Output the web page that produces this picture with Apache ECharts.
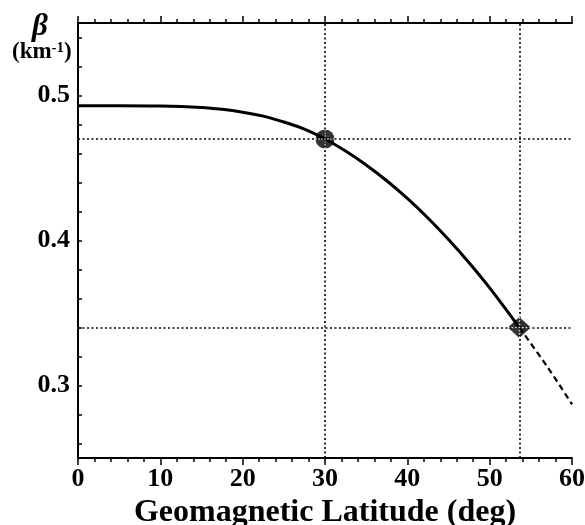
<!DOCTYPE html>
<html>
<head>
<meta charset="utf-8">
<script src="https://cdn.jsdelivr.net/npm/echarts@6/dist/echarts.min.js"></script>
<style>
  html, body { margin: 0; padding: 0; background: #fff; }
  #chart { width: 585px; height: 525px; }
</style>
</head>
<body>
<div id="chart"></div>
<script>
// beta vs geomagnetic latitude
const latSolid = [0, 5, 10, 15, 17.5, 20, 22.5, 25, 27.5, 30, 32.5, 35, 37.5, 40, 42.5, 45, 47.5, 50, 53.6];
const betaSolid = [0.493, 0.493, 0.4928, 0.4918, 0.4905, 0.4885, 0.4858, 0.4817, 0.4768, 0.470, 0.4617, 0.4521, 0.4412, 0.429, 0.4155, 0.4007, 0.3847, 0.3673, 0.340];
const latDashed = [53.6, 57, 60];
const betaDashed = [0.340, 0.313, 0.287];
const refLat = [30, 53.6];
const refBeta = [0.47, 0.34];
const markerShapes = ['circle', 'diamond'];
const yTicks = [0.26, 0.28, 0.30, 0.32, 0.34, 0.36, 0.38, 0.40, 0.42, 0.44, 0.46, 0.48, 0.50, 0.52, 0.54];
const yLabels = [0.3, 0.4, 0.5];

const FONT = '"Liberation Serif", "DejaVu Serif", serif';
const zip = (xs, ys) => xs.map((x, i) => [x, ys[i]]);

// white dotted crosshair drawn over the markers
function crossPath() {
  let p = '';
  for (let i = 0; i < 20; i += 3) {
    p += `M${i},9.4H${i + 1.6}V10.6H${i}Z M9.4,${i}H10.6V${i + 1.6}H9.4Z `;
  }
  return 'path://' + p.trim();
}

const chart = echarts.init(document.getElementById('chart'), null, { renderer: 'canvas' });

const xBase = {
  type: 'value', min: 0, max: 60, interval: 10,
  axisLine: { show: true, lineStyle: { color: '#000', width: 2 } },
  axisTick: { show: true, inside: false, length: 7, lineStyle: { color: '#000', width: 1.5 } },
  minorTick: { show: true, splitNumber: 5, length: 4, lineStyle: { color: '#000', width: 1.5 } },
  splitLine: { show: false },
};
const yBase = {
  type: 'value', min: 0.25, max: 0.55,
  axisLine: { show: true, lineStyle: { color: '#000', width: 2 } },
  axisTick: { show: true, length: 4, customValues: yTicks, lineStyle: { color: '#000', width: 1.5 } },
  splitLine: { show: false },
};

chart.setOption({
  animation: false,
  backgroundColor: '#fff',
  grid: { left: 78, right: 13, top: 23, bottom: 67, containLabel: false, outerBoundsMode: 'none' },
  xAxis: [
    Object.assign({}, xBase, {
      position: 'bottom',
      name: 'Geomagnetic Latitude (deg)',
      nameLocation: 'middle',
      nameGap: 32,
      nameTextStyle: { fontFamily: FONT, fontWeight: 'bold', fontSize: 32, color: '#000' },
      axisLabel: { show: true, margin: 8, fontFamily: FONT, fontWeight: 'bold', fontSize: 26, color: '#000' },
    }),
    Object.assign({}, xBase, { position: 'top', axisLabel: { show: false } }),
  ],
  yAxis: [
    Object.assign({}, yBase, {
      position: 'left',
      axisTick: Object.assign({}, yBase.axisTick, { inside: true }),
      axisLabel: {
        show: true, customValues: yLabels, margin: 8,
        fontFamily: FONT, fontWeight: 'bold', fontSize: 26, color: '#000',
        formatter: (v) => v.toFixed(1),
      },
    }),
    Object.assign({}, yBase, { position: 'right', axisLabel: { show: false } }),
  ],
  graphic: [
    {
      type: 'text', left: 32, top: 11,
      style: { text: 'β', font: 'italic bold 31px ' + FONT, fill: '#000' },
    },
    {
      type: 'text', left: 12, top: 41,
      style: {
        text: '{a|(km}{s|-1}{a|)}',
        fill: '#000',
        rich: {
          a: { fontFamily: FONT, fontWeight: 'bold', fontSize: 23, color: '#000' },
          s: { fontFamily: FONT, fontWeight: 'bold', fontSize: 15, color: '#000', verticalAlign: 'top', padding: [0, 0, 8, 0] },
        },
      },
    },
  ],
  series: [
    {
      type: 'line', data: [], z: 1, silent: true,
      markLine: {
        silent: true, symbol: 'none', label: { show: false },
        lineStyle: { color: '#000', width: 1.6, type: [2, 2.5] },
        data: refLat.map((v) => ({ xAxis: v })).concat(refBeta.map((v) => ({ yAxis: v }))),
      },
    },
    {
      type: 'line', data: zip(latSolid, betaSolid), smooth: 0.4, symbol: 'none', z: 3,
      lineStyle: { color: '#000', width: 3 },
    },
    {
      type: 'line', data: zip(latDashed, betaDashed), smooth: 0.3, symbol: 'none', z: 3,
      lineStyle: { color: '#000', width: 2.2, type: [6, 4] },
    },
    {
      type: 'scatter', z: 4,
      data: refLat.map((x, i) => ({
        value: [x, refBeta[i]],
        symbol: markerShapes[i],
        symbolSize: i === 0 ? 19 : [23, 21],
      })),
      itemStyle: { color: '#000' },
    },
    {
      type: 'scatter', z: 5,
      data: refLat.map((x, i) => ({ value: [x, refBeta[i]], symbolSize: i === 0 ? 19 : [23, 21] })),
      symbol: crossPath(),
      itemStyle: { color: '#fff' },
    },
  ],
});
window.addEventListener('resize', () => chart.resize());
</script>
</body>
</html>
